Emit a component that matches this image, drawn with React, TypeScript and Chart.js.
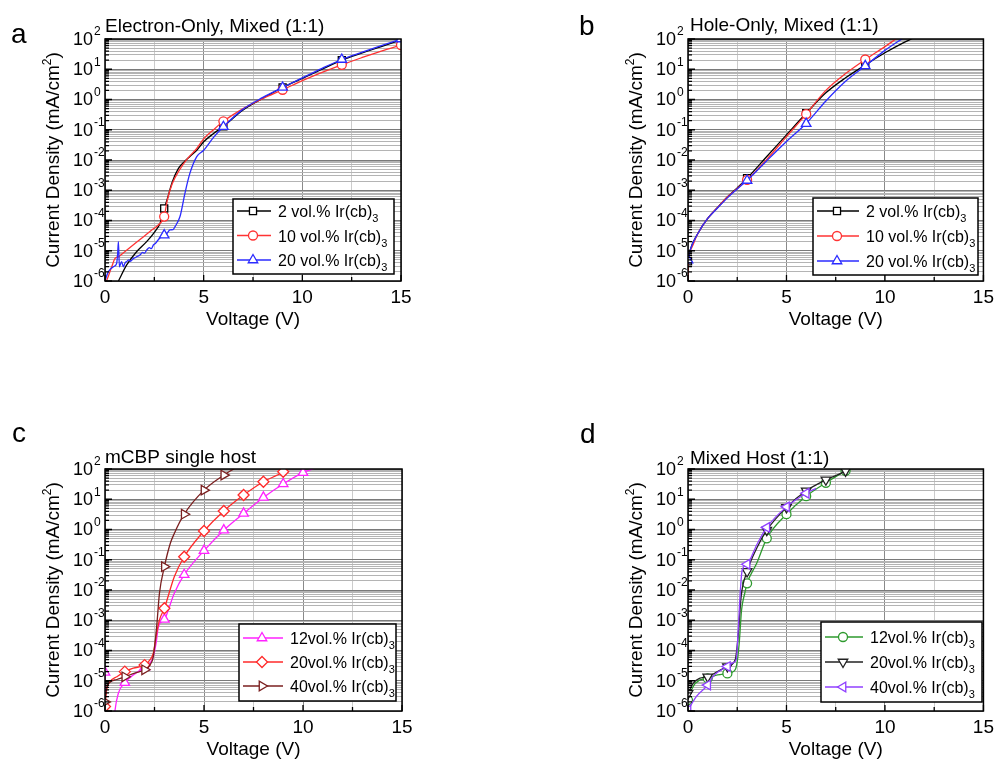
import React, { useEffect, useRef } from 'react';
import { Chart, registerables } from 'chart.js';

Chart.register(...registerables);

const FONT = '"Liberation Sans", Arial, Helvetica, sans-serif';

// ---------- shared axis values ----------
const xTickValues = [0, 2.5, 5, 7.5, 10, 12.5, 15];
const yDecades = [-6, -5, -4, -3, -2, -1, 0, 1, 2];
const xTitle = 'Voltage (V)';
const yTitleMain = 'Current Density (mA/cm';
const yTitleSup = '2';
const yTitleEnd = ')';

// ---------- panel a : Electron-Only, Mixed (1:1) ----------
const aV2 = [0.68, 1.1, 1.6, 2.11, 2.53, 2.79, 3.0, 3.15, 3.4, 3.7, 4.0, 4.3, 4.65, 5.0, 5.5, 6.0, 7.0, 8.0, 9.0, 10.0, 11.0, 12.0, 13.0, 14.0, 15.0];
const aJ2 = [1e-6, 3.4e-6, 9.3e-6, 2e-5, 4.3e-5, 8.1e-5, 2.5e-4, 5e-4, 1.8e-3, 5e-3, 8.5e-3, 1.3e-2, 2.1e-2, 4e-2, 7.5e-2, 0.13, 0.45, 1.1, 2.5, 5.0, 10, 20, 34, 56, 93];
const aV10 = [0, 0.1, 0.34, 0.51, 0.68, 1.0, 1.5, 2.0, 2.4, 2.7, 3.0, 3.15, 3.4, 3.8, 4.2, 4.65, 5.0, 5.5, 6.0, 7.0, 8.0, 9.0, 10.0, 11.0, 12.0, 13.0, 14.0, 15.0];
const aJ10 = [8e-7, 1.1e-6, 2.95e-6, 5.6e-6, 6.3e-6, 9.3e-6, 1.7e-5, 3.1e-5, 5e-5, 7.1e-5, 1.35e-4, 4.5e-4, 1.6e-3, 5e-3, 1.15e-2, 2.4e-2, 5e-2, 0.1, 0.19, 0.5, 1.07, 2.1, 4.2, 7.9, 14, 24, 40, 63];
const aV20 = [0, 0.17, 0.42, 0.59, 0.64, 0.68, 0.73, 0.84, 0.93, 1.02, 1.1, 1.2, 1.3, 1.44, 1.55, 1.65, 1.77, 1.9, 2.0, 2.11, 2.25, 2.35, 2.45, 2.55, 2.7, 2.87, 3.0, 3.15, 3.29, 3.45, 3.55, 3.8, 4.05, 4.3, 4.65, 5.0, 5.5, 6, 7, 8, 9, 10, 11, 12, 13, 14, 15];
const aJ20 = [1e-6, 2.04e-6, 2.95e-6, 3.8e-6, 7.9e-6, 2e-5, 2.95e-6, 4.4e-6, 2.95e-6, 4e-6, 4.4e-6, 5e-6, 4.5e-6, 5.6e-6, 6e-6, 6.6e-6, 7.2e-6, 8.9e-6, 8.3e-6, 1.05e-5, 1.26e-5, 1.17e-5, 1.55e-5, 1.74e-5, 2.3e-5, 2.95e-5, 3.3e-5, 3.8e-5, 4.9e-5, 5e-5, 6.3e-5, 1.35e-4, 7.9e-4, 3.6e-3, 1.3e-2, 2.1e-2, 5.6e-2, 0.126, 0.48, 1.17, 2.5, 5.2, 10.7, 21, 36, 60, 100];
const aMarks = [3, 6, 9, 12, 15];

// ---------- panel b : Hole-Only, Mixed (1:1) ----------
const bV2 = [0, 0.1, 0.5, 1, 1.5, 2, 2.5, 3, 4, 5, 6, 7, 8, 9, 10, 11, 11.4];
const bJ2 = [4.5e-6, 1e-5, 3.7e-5, 1.17e-4, 2.7e-4, 6e-4, 1.2e-3, 2.5e-3, 1.3e-2, 6.8e-2, 0.35, 1.66, 5.2, 13.8, 35, 79, 105];
const bV10 = [0, 0.02, 0.1, 0.5, 1, 1.5, 2, 2.5, 3, 4, 5, 6, 7, 8, 9, 10, 10.6];
const bJ10 = [1e-7, 4.5e-6, 1e-5, 3.7e-5, 1.17e-4, 2.7e-4, 6e-4, 1.15e-3, 2.2e-3, 1.05e-2, 5.9e-2, 0.33, 2.0, 7.2, 21, 56, 105];
const bV20 = [0, 0.1, 0.5, 1, 1.5, 2, 2.5, 3, 4, 5, 6, 7, 8, 9, 10, 10.9];
const bJ20 = [4.9e-6, 1e-5, 3.7e-5, 1.17e-4, 2.6e-4, 5.6e-4, 1.1e-3, 2.1e-3, 9.5e-3, 4.1e-2, 0.16, 0.89, 4.0, 12.9, 42, 105];
const bMarks = [0, 3, 6, 9, 12];

// ---------- panel c : mCBP single host ----------
const cV12 = [0, 0.1, 0.5, 0.67, 1, 1.43, 2, 2.27, 2.44, 2.58, 2.7, 3, 3.5, 4, 5, 6, 7, 8, 9, 10, 10.6];
const cJ12 = [1.9e-5, 1e-9, 1e-6, 3.8e-6, 8.7e-6, 1.55e-5, 2.8e-5, 3.8e-5, 6.3e-5, 1.74e-4, 6.2e-4, 1.07e-3, 7.8e-3, 3.2e-2, 0.2, 0.95, 3.4, 11.5, 32, 76, 105];
const cV20 = [0, 0.08, 0.25, 0.59, 1, 1.43, 2, 2.27, 2.44, 2.58, 2.75, 3, 3.5, 4, 5, 6, 7, 8, 9, 9.2];
const cJ20 = [1.4e-6, 4.9e-6, 9.3e-6, 1.35e-5, 2e-5, 2.6e-5, 3.3e-5, 4.9e-5, 8.1e-5, 2.9e-4, 1.02e-3, 2.5e-3, 2.75e-2, 0.126, 0.89, 4.1, 13.8, 38, 81, 105];
const cV40 = [0, 0.08, 0.25, 0.6, 1, 1.5, 2, 2.27, 2.44, 2.61, 2.75, 3, 3.3, 3.5, 4, 5, 6, 6.55];
const cJ40 = [2e-6, 5.6e-6, 8.9e-6, 1.1e-5, 1.35e-5, 1.8e-5, 2.3e-5, 3.3e-5, 6.3e-5, 6.2e-4, 7.8e-3, 5.9e-2, 0.35, 0.74, 3.2, 20, 63, 105];
const cMarks = [0, 1, 2, 3, 4, 5, 6, 7, 8, 9, 10];

// ---------- panel d : Mixed Host (1:1) ----------
const dV12 = [0, 0.25, 0.58, 1, 1.5, 2, 2.3, 2.47, 2.6, 2.72, 2.88, 3, 3.5, 4, 5, 6, 7, 8, 8.25];
const dJ12 = [2.3e-6, 6.3e-6, 1.05e-5, 1.2e-5, 1.55e-5, 1.74e-5, 2e-5, 3.3e-5, 1.74e-4, 2.2e-3, 7.8e-3, 1.66e-2, 7.9e-2, 0.51, 3.2, 12.6, 35, 87, 105];
const dV20 = [0, 0.25, 0.58, 1, 1.5, 2, 2.4, 2.55, 2.7, 3, 3.5, 4, 5, 6, 7, 8, 8.15];
const dJ20 = [3.8e-6, 8.1e-6, 1.2e-5, 1.35e-5, 2e-5, 2.95e-5, 5e-5, 3.2e-4, 6.3e-3, 4.1e-2, 0.25, 0.95, 5.4, 19, 44, 87, 105];
const dV40 = [0, 0.42, 1, 1.26, 1.5, 2, 2.3, 2.45, 2.55, 2.65, 2.75, 3, 3.5, 4, 5, 6, 6.5];
const dJ40 = [1.07e-6, 3e-6, 7.2e-6, 1.35e-5, 1.9e-5, 2.95e-5, 4e-5, 5e-5, 5e-4, 7.9e-3, 4.6e-2, 7.1e-2, 0.32, 1.17, 5.6, 15.8, 23];
const dMarks = [0, 1, 2, 3, 4, 5, 6, 7, 8];

type Series = {
  label: string; x: number[]; y: number[]; marks: number[];
  color: string; style: string; rot: number; r: number;
};
type Rect = { l: number; t: number; r: number; b: number };
type Panel = {
  letter: string; letterX: number; letterY: number;
  title: string; titleX: number; titleY: number;
  left: number; top: number; w: number; h: number;
  area: Rect; legend: { x: number; y: number; w: number; h: number; mx: number; row0: number; dy: number };
  series: Series[];
};

const XH = 50;

const panels: Panel[] = [
  {
    letter: 'a', letterX: 11, letterY: 43, title: 'Electron-Only, Mixed (1:1)', titleX: 105, titleY: 32,
    left: 0, top: 0, w: 420, h: 340, area: { l: 105, t: 39, r: 401, b: 281 },
    legend: { x: 233, y: 199, w: 161, h: 75, mx: 20, row0: 12, dy: 24.5 },
    series: [
      { label: '2 vol.% Ir(cb)', x: aV2, y: aJ2, marks: aMarks, color: '#000000', style: 'rect', rot: 0, r: 5 },
      { label: '10 vol.% Ir(cb)', x: aV10, y: aJ10, marks: aMarks, color: '#ff3333', style: 'circle', rot: 0, r: 4.5 },
      { label: '20 vol.% Ir(cb)', x: aV20, y: aJ20, marks: aMarks, color: '#2b2bff', style: 'triangle', rot: 0, r: 5.5 },
    ],
  },
  {
    letter: 'b', letterX: 579, letterY: 35, title: 'Hole-Only, Mixed (1:1)', titleX: 690, titleY: 31,
    left: 580, top: 0, w: 419, h: 340, area: { l: 688, t: 39, r: 987, b: 281 },
    legend: { x: 813, y: 198, w: 165, h: 77, mx: 24, row0: 13, dy: 25 },
    series: [
      { label: '2 vol.% Ir(cb)', x: bV2, y: bJ2, marks: bMarks, color: '#000000', style: 'rect', rot: 0, r: 5 },
      { label: '10 vol.% Ir(cb)', x: bV10, y: bJ10, marks: bMarks, color: '#ff3333', style: 'circle', rot: 0, r: 4.5 },
      { label: '20 vol.% Ir(cb)', x: bV20, y: bJ20, marks: bMarks, color: '#2b2bff', style: 'triangle', rot: 0, r: 5.5 },
    ],
  },
  {
    letter: 'c', letterX: 12, letterY: 442, title: 'mCBP single host', titleX: 105, titleY: 463,
    left: 0, top: 400, w: 420, h: 360, area: { l: 105, t: 469, r: 402, b: 711 },
    legend: { x: 239, y: 624, w: 157, h: 77, mx: 23, row0: 14, dy: 24 },
    series: [
      { label: '12vol.% Ir(cb)', x: cV12, y: cJ12, marks: cMarks, color: '#ff22ff', style: 'triangle', rot: 0, r: 5.5 },
      { label: '20vol.% Ir(cb)', x: cV20, y: cJ20, marks: cMarks, color: '#ff2a2a', style: 'rectRot', rot: 0, r: 5.5 },
      { label: '40vol.% Ir(cb)', x: cV40, y: cJ40, marks: cMarks, color: '#7a1f1f', style: 'triangle', rot: 90, r: 5.5 },
    ],
  },
  {
    letter: 'd', letterX: 580, letterY: 443, title: 'Mixed Host (1:1)', titleX: 690, titleY: 464,
    left: 580, top: 400, w: 419, h: 360, area: { l: 688, t: 469, r: 986, b: 711 },
    legend: { x: 821, y: 622, w: 161, h: 80, mx: 22, row0: 15, dy: 25 },
    series: [
      { label: '12vol.% Ir(cb)', x: dV12, y: dJ12, marks: dMarks, color: '#2e9a2e', style: 'circle', rot: 0, r: 4.5 },
      { label: '20vol.% Ir(cb)', x: dV20, y: dJ20, marks: dMarks, color: '#222222', style: 'triangle', rot: 180, r: 5.5 },
      { label: '40vol.% Ir(cb)', x: dV40, y: dJ40, marks: dMarks, color: '#9040ff', style: 'triangle', rot: 270, r: 5.5 },
    ],
  },
];

const isDecade = (v: number) => {
  const l = Math.log10(v);
  return Math.abs(l - Math.round(l)) < 1e-9;
};

function buildLogTicks() {
  const out: { value: number }[] = [];
  for (let k = yDecades[0]; k < yDecades[yDecades.length - 1]; k++) {
    for (let m = 1; m <= 9; m++) out.push({ value: Number((m * Math.pow(10, k)).toPrecision(6)) });
  }
  out.push({ value: Math.pow(10, yDecades[yDecades.length - 1]) });
  return out;
}

type Part = { t: string; size: number; dy: number };
function drawParts(ctx: CanvasRenderingContext2D, parts: Part[], x: number, y: number, align: 'left' | 'center' | 'right') {
  let total = 0;
  const widths = parts.map((p) => {
    ctx.font = `${p.size}px ${FONT}`;
    const w = ctx.measureText(p.t).width;
    total += w;
    return w;
  });
  let cx = align === 'left' ? x : align === 'center' ? x - total / 2 : x - total;
  ctx.textAlign = 'left';
  ctx.textBaseline = 'alphabetic';
  parts.forEach((p, i) => {
    ctx.font = `${p.size}px ${FONT}`;
    ctx.fillText(p.t, cx, y + p.dy);
    cx += widths[i];
  });
}

function drawMarker(ctx: CanvasRenderingContext2D, style: string, rot: number, r: number, x: number, y: number, color: string) {
  ctx.save();
  ctx.beginPath();
  if (style === 'circle') {
    ctx.arc(x, y, r, 0, Math.PI * 2);
  } else if (style === 'rect') {
    const s = Math.SQRT1_2 * r;
    ctx.rect(x - s, y - s, 2 * s, 2 * s);
  } else if (style === 'rectRot') {
    ctx.moveTo(x, y - r); ctx.lineTo(x + r, y); ctx.lineTo(x, y + r); ctx.lineTo(x - r, y);
    ctx.closePath();
  } else {
    let rad = (rot * Math.PI) / 180;
    ctx.moveTo(x + Math.sin(rad) * r, y - Math.cos(rad) * r);
    rad += (2 * Math.PI) / 3;
    ctx.lineTo(x + Math.sin(rad) * r, y - Math.cos(rad) * r);
    rad += (2 * Math.PI) / 3;
    ctx.lineTo(x + Math.sin(rad) * r, y - Math.cos(rad) * r);
    ctx.closePath();
  }
  ctx.fillStyle = '#ffffff';
  ctx.fill();
  ctx.strokeStyle = color;
  ctx.lineWidth = 1.3;
  ctx.stroke();
  ctx.restore();
}

function makeDecor(p: Panel) {
  return {
    id: 'decor',
    afterDraw(chart: any) {
      const ctx: CanvasRenderingContext2D = chart.ctx;
      const a = chart.chartArea;
      const ys = chart.scales.y;
      const xs = chart.scales.x;
      ctx.save();
      // frame
      ctx.strokeStyle = '#000';
      ctx.lineWidth = 1.5;
      ctx.strokeRect(a.left, a.top, a.right - a.left, a.bottom - a.top);
      // inward ticks
      ctx.lineWidth = 1.3;
      ctx.beginPath();
      ys.ticks.forEach((t: any) => {
        const y = ys.getPixelForValue(t.value);
        const len = isDecade(t.value) ? 7 : 4;
        ctx.moveTo(a.left, y);
        ctx.lineTo(a.left + len, y);
      });
      xs.ticks.forEach((t: any) => {
        const x = xs.getPixelForValue(t.value);
        const len = t.value % 5 === 0 ? 6 : 4;
        ctx.moveTo(x, a.bottom);
        ctx.lineTo(x, a.bottom - len);
      });
      ctx.stroke();
      // y tick labels 10^k
      ctx.fillStyle = '#000';
      yDecades.forEach((k) => {
        const y = ys.getPixelForValue(Math.pow(10, k));
        ctx.font = `18px ${FONT}`;
        ctx.textAlign = 'right';
        ctx.textBaseline = 'middle';
        ctx.fillText('10', a.left - 12, y + 1);
        ctx.font = `12px ${FONT}`;
        ctx.textAlign = 'left';
        ctx.fillText(String(k), a.left - 11, y - 7);
      });
      // y title
      ctx.save();
      ctx.translate(a.left - 53, (a.top + a.bottom) / 2);
      ctx.rotate(-Math.PI / 2);
      drawParts(ctx, [
        { t: yTitleMain, size: 19, dy: 0 },
        { t: yTitleSup, size: 12, dy: -8 },
        { t: yTitleEnd, size: 19, dy: 0 },
      ], 0, 6.5, 'center');
      ctx.restore();
      // panel letter and title
      ctx.font = `28px ${FONT}`;
      ctx.textAlign = 'left';
      ctx.textBaseline = 'alphabetic';
      ctx.fillText(p.letter, p.letterX - p.left, p.letterY - p.top);
      ctx.font = `19px ${FONT}`;
      ctx.fillText(p.title, p.titleX - p.left, p.titleY - p.top);
      // legend
      const L = p.legend;
      const lx = L.x - p.left;
      const ly = L.y - p.top;
      ctx.fillStyle = '#fff';
      ctx.fillRect(lx, ly, L.w, L.h);
      ctx.strokeStyle = '#000';
      ctx.lineWidth = 1.5;
      ctx.strokeRect(lx, ly, L.w, L.h);
      p.series.forEach((s, i) => {
        const ry = ly + L.row0 + i * L.dy;
        ctx.strokeStyle = s.color;
        ctx.lineWidth = 1.3;
        ctx.beginPath();
        ctx.moveTo(lx + 4, ry);
        ctx.lineTo(lx + L.mx * 2 - 2, ry);
        ctx.stroke();
        drawMarker(ctx, s.style, s.rot, s.r, lx + L.mx, ry, s.color);
        ctx.fillStyle = '#000';
        drawParts(ctx, [
          { t: s.label, size: 16, dy: 0 },
          { t: '3', size: 11, dy: 5 },
        ], lx + L.mx * 2 + 5, ry + 6, 'left');
      });
      ctx.restore();
    },
  };
}

function PanelChart({ p }: { p: Panel }) {
  const ref = useRef<HTMLCanvasElement | null>(null);
  useEffect(() => {
    if (!ref.current) return;
    const datasets = p.series.map((s, idx) => ({
      label: s.label,
      order: -idx,
      data: s.x.map((v, i) => ({ x: v, y: s.y[i] })),
      borderColor: s.color,
      backgroundColor: '#ffffff',
      borderWidth: 1.3,
      pointStyle: s.style,
      pointRotation: s.rot,
      pointBorderColor: s.color,
      pointBackgroundColor: '#ffffff',
      pointBorderWidth: 1.3,
      pointRadius: (ctx: any) => (ctx.raw && s.marks.includes(ctx.raw.x) ? s.r : 0),
      pointHoverRadius: 0,
      cubicInterpolationMode: 'monotone' as const,
      fill: false,
    }));
    const chart = new Chart(ref.current, {
      type: 'line',
      data: { datasets },
      options: {
        animation: false,
        responsive: false,
        events: [],
        devicePixelRatio: 1,
        layout: {
          autoPadding: false,
          padding: {
            left: 0,
            top: p.area.t - p.top,
            right: p.left + p.w - p.area.r,
            bottom: p.top + p.h - p.area.b - XH,
          },
        },
        plugins: { legend: { display: false }, title: { display: false }, tooltip: { enabled: false } },
        scales: {
          x: {
            type: 'linear',
            min: 0,
            max: 15,
            afterBuildTicks: (s: any) => { s.ticks = xTickValues.map((v) => ({ value: v })); },
            afterFit: (s: any) => { s.height = XH; },
            grid: {
              drawTicks: false,
              lineWidth: 1,
              color: (c: any) => (c.tick && c.tick.value % 5 === 0 ? '#8a8a8a' : '#cccccc'),
            },
            border: { display: false },
            ticks: {
              autoSkip: false,
              maxRotation: 0,
              padding: 5,
              color: '#000',
              font: { family: FONT, size: 19 },
              callback: (v: any) => (Number(v) % 5 === 0 ? String(v) : ''),
            },
            title: { display: true, text: xTitle, color: '#000', font: { family: FONT, size: 19 }, padding: { top: 0, bottom: 0 } },
          },
          y: {
            type: 'logarithmic',
            min: Math.pow(10, yDecades[0]),
            max: Math.pow(10, yDecades[yDecades.length - 1]),
            afterBuildTicks: (s: any) => { s.ticks = buildLogTicks(); },
            afterFit: (s: any) => { s.width = p.area.l - p.left; },
            grid: {
              drawTicks: false,
              lineWidth: 1,
              color: (c: any) => (c.tick && isDecade(c.tick.value) ? '#7a7a7a' : '#b4b4b4'),
            },
            border: { display: false },
            ticks: { display: false },
          },
        },
      },
      plugins: [makeDecor(p)],
    } as any);
    return () => chart.destroy();
  }, [p]);
  return (
    <canvas
      ref={ref}
      width={p.w}
      height={p.h}
      style={{ position: 'absolute', left: p.left, top: p.top, width: p.w, height: p.h }}
    />
  );
}

export default function App() {
  return (
    <div style={{ position: 'absolute', left: 0, top: 0, width: 999, height: 760, background: '#fff', overflow: 'hidden' }}>
      {panels.map((p) => (
        <PanelChart key={p.letter} p={p} />
      ))}
    </div>
  );
}
